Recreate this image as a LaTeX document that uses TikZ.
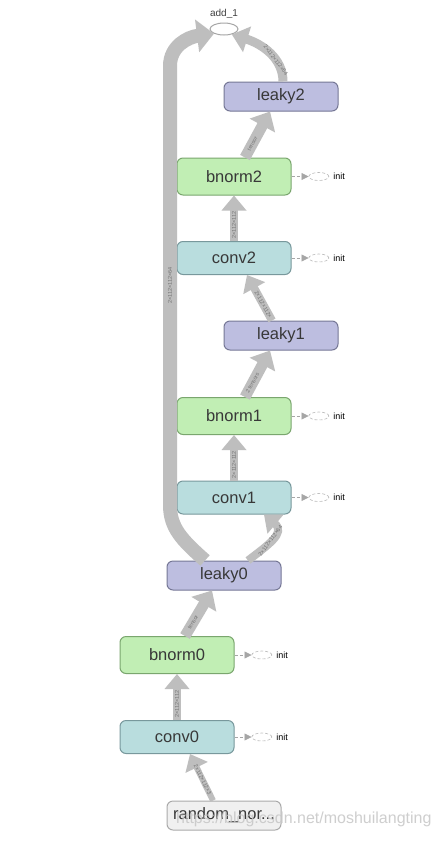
\documentclass[tikz,border=0pt]{standalone}
\usepackage{fontspec}
\setmainfont{Liberation Sans}
\usetikzlibrary{arrows.meta,shapes.geometric,positioning}
\definecolor{edgegray}{RGB}{190,190,190}
\definecolor{leakyfill}{RGB}{189,190,224}
\definecolor{leakydraw}{RGB}{118,120,150}
\definecolor{convfill}{RGB}{185,221,222}
\definecolor{convdraw}{RGB}{120,152,156}
\definecolor{bnfill}{RGB}{193,238,180}
\definecolor{bndraw}{RGB}{122,166,110}
\definecolor{rndfill}{RGB}{240,240,240}
\definecolor{rnddraw}{RGB}{170,170,170}
\definecolor{labgray}{RGB}{115,115,115}
\tikzset{
  opbox/.style={draw, rounded corners=6pt, minimum width=114pt, line width=1pt,
    inner sep=0pt, text=black!78, font=\fontsize{16.5}{16.5}\selectfont},
  leakybox/.style={opbox, fill=leakyfill, draw=leakydraw, minimum height=29pt},
  convbox/.style={opbox, fill=convfill, draw=convdraw, minimum height=33pt},
  bnbox/.style={opbox, fill=bnfill, draw=bndraw, minimum height=37pt},
  rndbox/.style={opbox, fill=rndfill, draw=rnddraw, minimum height=29pt},
  flow/.style={draw=edgegray, line width=#1, -{Triangle[width=24pt,length=15pt]}},
  flow/.default=8pt,
  wideflow/.style={draw=edgegray, line width=#1, -{Triangle[width=28pt,length=16pt]}},
  wideflow/.default=11pt,
  elabel/.style={font=\fontsize{5.5}{6}\selectfont, text=labgray, inner sep=0pt, sloped},
  initell/.style={draw=gray!55, densely dashed, ellipse, minimum width=20pt,
    minimum height=8pt, inner sep=0pt, line width=0.6pt},
  initedge/.style={draw=gray!70, densely dashed, line width=0.7pt,
    -{Triangle[width=7pt,length=7pt]}},
  inittext/.style={font=\fontsize{9}{9}\selectfont, text=black, inner sep=0pt}
}
\begin{document}
\begin{tikzpicture}[x=1pt,y=-1pt]
\useasboundingbox (0,0) rectangle (437,841);
\fill[white] (0,0) rectangle (437,841);

% nodes
\node[draw=gray!70, ellipse, minimum width=28pt, minimum height=12pt, inner sep=0pt, line width=1pt] (add) at (224,29) {};
\node[font=\fontsize{10}{10}\selectfont, text=black!75, inner sep=0pt] (addl) at (224,14) {add\_1};
\node[leakybox] (leaky2) at (281,96.5) {leaky2};
\node[bnbox] (bnorm2) at (234,176.5) {bnorm2};
\node[convbox] (conv2) at (234,258) {conv2};
\node[leakybox] (leaky1) at (281,335.5) {leaky1};
\node[bnbox] (bnorm1) at (234,416) {bnorm1};
\node[convbox] (conv1) at (234,497.5) {conv1};
\node[leakybox] (leaky0) at (224,575.5) {leaky0};
\node[bnbox] (bnorm0) at (177,655) {bnorm0};
\node[convbox] (conv0) at (177,737) {conv0};
\node[rndbox] (rnd) at (224,815.5) {random\_nor...};

% init markers
\foreach \n in {conv0,bnorm0,conv1,bnorm1,conv2,bnorm2}{
  \node[initell, right=17pt of \n] (\n i) {};
  \draw[initedge] (\n) -- (\n i);
  \node[inittext, right=4pt of \n i] (\n t) {init};
}

% edges
\draw[flow=6pt] ([xshift=-11pt]rnd.north) -- node[elabel, pos=0.45]{2×112×112×3} ([xshift=13pt]conv0.south);
\draw[flow=8pt] (conv0) -- node[elabel, pos=0.35]{2×112×112} (bnorm0);
\draw[wideflow] ([xshift=8pt]bnorm0.north) -- node[elabel, pos=0.3]{tensor} ([xshift=-12pt]leaky0.south);
\draw[flow=8pt] ([xshift=24pt]leaky0.north) .. controls (268,545) and (286,533) .. node[elabel, pos=0.45]{2×112×112×64} ([xshift=30pt]conv1.south);
\draw[flow=8pt] (conv1) -- node[elabel, pos=0.35]{2×112×112} (bnorm1);
\draw[wideflow] ([xshift=11pt]bnorm1.north) -- node[elabel, pos=0.3]{2 tensors} ([xshift=-11pt]leaky1.south);
\draw[flow=8pt] ([xshift=-9pt]leaky1.north) -- node[elabel, pos=0.35]{2×112×112×} ([xshift=13pt]conv2.south);
\draw[flow=8pt] (conv2) -- node[elabel, pos=0.35]{2×112×112} (bnorm2);
\draw[wideflow] ([xshift=11pt]bnorm2.north) -- node[elabel, pos=0.3]{tensor} ([xshift=-11pt]leaky2.south);
\draw[draw=edgegray, line width=9pt, -{Triangle[width=26pt,length=16pt]}] ([xshift=2pt]leaky2.north) .. controls (283,58) and (262,44) .. node[elabel, pos=0.35]{2×112×112×64} (add.-35);
\coordinate (skipA) at (170,505);
\coordinate (skipB) at (170,66);
\draw[draw=edgegray, line width=14pt, -{Triangle[width=32pt,length=17pt]}]
  ([xshift=-19pt]leaky0.north) .. controls (182,540) and (170,528) .. (skipA)
  -- node[elabel, pos=0.5]{2×112×112×64} (skipB)
  .. controls (170,46) and (188,37) .. (add.205);

% watermark
\node[anchor=west, inner sep=0pt, text=gray!45, opacity=0.85, font=\fontsize{16}{16}\selectfont] (wm) at (176,819) {https://blog.csdn.net/moshuilangting};
\end{tikzpicture}
\end{document}
